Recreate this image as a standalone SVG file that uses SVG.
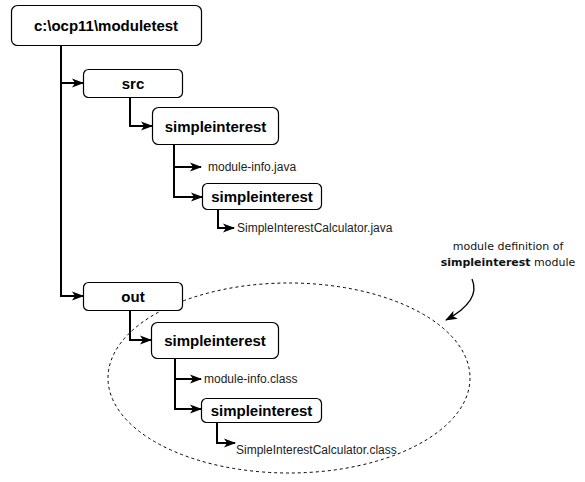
<svg xmlns="http://www.w3.org/2000/svg" width="585" height="482" viewBox="0 0 585 482">
<style>
.box{fill:#fff;stroke:#000;stroke-width:1.2}
.bt{font-family:"Liberation Sans",Arial,sans-serif;font-weight:bold;font-size:15px;fill:#000;text-anchor:middle}
.ft{font-family:"Liberation Sans",Arial,sans-serif;font-size:12px;fill:#222}
.con{fill:none;stroke:#000;stroke-width:2}
.note{font-family:"DejaVu Sans",sans-serif;font-size:11px;fill:#111;text-anchor:middle}
</style>
<defs>
<marker id="arr" markerUnits="userSpaceOnUse" markerWidth="12" markerHeight="10" viewBox="0 0 12 10" refX="11" refY="5" orient="auto">
<path d="M0,0.5 L12,5 L0,9.5 L3,5 z" fill="#000"/>
</marker>
<marker id="arr2" markerUnits="userSpaceOnUse" markerWidth="12" markerHeight="10" viewBox="0 0 12 10" refX="11" refY="5" orient="auto">
<path d="M0,0.5 L12,5 L0,9.5 L3,5 z" fill="#000"/>
</marker>
</defs>
<rect width="585" height="482" fill="#fff"/>
<g id="annotation">
<ellipse cx="289" cy="378" rx="181" ry="95" fill="none" stroke="#000" stroke-width="1" stroke-dasharray="3 3"/>
<text class="note" x="508" y="250">module definition of</text>
<text class="note" x="508" y="266"><tspan font-weight="bold">simpleinterest</tspan> module</text>
<path d="M472 279 C479 295,468 308,446 320" fill="none" stroke="#000" stroke-width="1.3" marker-end="url(#arr2)"/>
</g>
<g id="connectors">
<path class="con" d="M61 46 V296 H83" marker-end="url(#arr)"/>
<path class="con" d="M61 83 H83" marker-end="url(#arr)"/>
<path class="con" d="M130 97 V126 H152" marker-end="url(#arr)"/>
<path class="con" d="M174 145 V197 H202" marker-end="url(#arr)"/>
<path class="con" d="M174 167 H201" marker-end="url(#arr)"/>
<path class="con" d="M218 209 V228 H234" marker-end="url(#arr)"/>
<path class="con" d="M130 310 V340 H151" marker-end="url(#arr)"/>
<path class="con" d="M175 358 V409 H201" marker-end="url(#arr)"/>
<path class="con" d="M175 379 H201" marker-end="url(#arr)"/>
<path class="con" d="M217 422 V443 H235" marker-end="url(#arr)"/>
</g>
<g id="root"><rect class="box" x="11.5" y="5.5" width="190" height="40" rx="6"/><text class="bt" x="106" y="31" font-size="15.5">c:\ocp11\moduletest</text></g>
<g id="src"><rect class="box" x="83.5" y="69.5" width="99" height="28" rx="5"/><text class="bt" x="133" y="88.5">src</text></g>
<g id="src-simpleinterest"><rect class="box" x="152.5" y="107.5" width="126" height="37" rx="6"/><text class="bt" x="215.5" y="131.5">simpleinterest</text></g>
<g id="src-module-info"><text class="ft" x="208" y="171">module-info.java</text></g>
<g id="src-simpleinterest-pkg"><rect class="box" x="202.5" y="183.5" width="119" height="26" rx="5"/><text class="bt" x="262" y="202">simpleinterest</text></g>
<g id="src-calc"><text class="ft" x="237" y="232">SimpleInterestCalculator.java</text></g>
<g id="out"><rect class="box" x="83.5" y="282.5" width="99" height="28" rx="5"/><text class="bt" x="133" y="301.5">out</text></g>
<g id="out-simpleinterest"><rect class="box" x="151.5" y="322.5" width="127" height="36" rx="6"/><text class="bt" x="215" y="345.5">simpleinterest</text></g>
<g id="out-module-info"><text class="ft" x="204" y="383">module-info.class</text></g>
<g id="out-simpleinterest-pkg"><rect class="box" x="201.5" y="398.5" width="120" height="24" rx="5"/><text class="bt" x="261.5" y="416">simpleinterest</text></g>
<g id="out-calc"><text class="ft" x="236" y="454">SimpleInterestCalculator.class</text></g>
</svg>
